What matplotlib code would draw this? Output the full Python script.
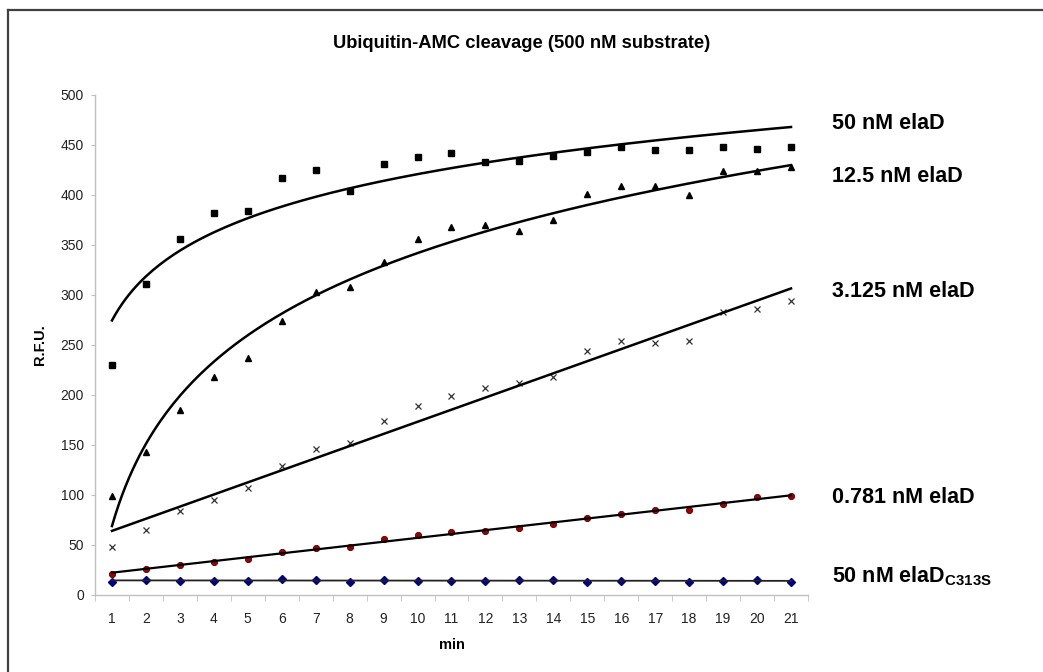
import numpy as np
import matplotlib
matplotlib.use('Agg')
import matplotlib.pyplot as plt
from matplotlib.lines import Line2D
from matplotlib.ticker import MultipleLocator

plt.rcParams['font.family'] = ['Liberation Sans', 'DejaVu Sans']
plt.rcParams['mathtext.fontset'] = 'custom'
plt.rcParams['mathtext.rm'] = 'Liberation Sans'
plt.rcParams['mathtext.bf'] = 'Liberation Sans:bold'

minutes = np.arange(1, 22)

# R.F.U.
elad_50 = [230, 311, 356, 382, 384, 417, 425, 404, 431, 438, 442,
           433, 434, 439, 443, 448, 445, 445, 448, 446, 448]
elad_12_5 = [99, 143, 185, 218, 237, 274, 303, 308, 333, 356, 368,
             370, 364, 375, 401, 409, 409, 400, 424, 424, 428]
elad_3_125 = [48, 65, 84, 95, 107, 129, 146, 152, 174, 189, 199,
              207, 212, 218, 244, 254, 252, 254, 283, 286, 294]
elad_0_781 = [21, 26, 30, 33, 36, 43, 47, 48, 56, 60, 63,
              64, 67, 71, 77, 81, 85, 85, 91, 98, 99]
elad_c313s = [13.5, 15, 14.3, 14.3, 14.3, 16, 15.3, 13, 15.3, 14.3, 14.3,
              14.3, 15.3, 15.3, 12.7, 14.3, 14.3, 13.3, 14.3, 15.3, 13.3]

labels = ['50 nM elaD', '12.5 nM elaD', '3.125 nM elaD', '0.781 nM elaD',
          r'50 nM elaD$_{\mathbf{C313S}}$']
label_y = [466, 413, 298, 92, 13]   # baselines, in R.F.U.


def log_fit(x, y, xs):
    b, a = np.polyfit(np.log(x), y, 1)
    return a + b * np.log(xs)


def lin_fit(x, y):
    m, c = np.polyfit(x, y, 1)
    return m * x + c


fig = plt.figure(figsize=(10.43, 6.72), dpi=100)
ax = fig.add_axes([95 / 1043, 1 - 595 / 672, 713 / 1043, 500 / 672])

xs = np.linspace(1, 21, 200)

ax.plot(minutes, elad_50, linestyle='none', marker='s', markersize=4.3, color='black')
ax.plot(xs, log_fit(minutes, elad_50, xs), color='black', lw=1.8)

ax.plot(minutes, elad_12_5, linestyle='none', marker='^', markersize=5, color='black')
ax.plot(xs, log_fit(minutes, elad_12_5, xs), color='black', lw=1.8)

ax.plot(minutes, elad_3_125, linestyle='none', marker='x', markersize=5, color='#333333', mew=0.9)
ax.plot(minutes, lin_fit(minutes, elad_3_125), color='black', lw=1.8)

ax.plot(minutes, elad_0_781, linestyle='none', marker='o', markersize=4.5,
        color='#990000', markeredgecolor='#5a0000', markeredgewidth=0.6)
ax.plot(minutes, lin_fit(minutes, elad_0_781), color='black', lw=1.6)

ax.plot(minutes, elad_c313s, linestyle='none', marker='D', markersize=3.8, color='#000080')
ax.plot(minutes, lin_fit(minutes, elad_c313s), color='#222222', lw=1.3)

ax.set_xlim(0.5, 21.5)
ax.set_ylim(0, 500)
ax.set_xticks(minutes)
ax.set_xticklabels([str(m) for m in minutes])
ax.xaxis.set_minor_locator(MultipleLocator(1, offset=0.5))
ax.yaxis.set_major_locator(MultipleLocator(50))

for s in ['top', 'right']:
    ax.spines[s].set_visible(False)
for s in ['left', 'bottom']:
    ax.spines[s].set_color('#c0c0c0')
    ax.spines[s].set_linewidth(1.0)

ax.tick_params(axis='x', which='major', length=0, pad=12, labelsize=10, labelcolor='#222222')
ax.tick_params(axis='x', which='minor', length=4, color='#c0c0c0', direction='out')
ax.tick_params(axis='y', which='major', length=3, color='#c0c0c0', pad=5,
               labelsize=10, labelcolor='#222222')

ax.set_xlabel('min', fontsize=10.5, fontweight='bold', labelpad=9)
ax.set_ylabel('R.F.U.', fontsize=10.5, fontweight='bold', labelpad=10)

for lab, yv in zip(labels, label_y):
    ax.text(22.2, yv, lab, fontsize=15.5, fontweight='bold', va='baseline', ha='left',
            clip_on=False)

fig.text(0.5, 1 - 48 / 672, 'Ubiquitin-AMC cleavage (500 nM substrate)',
         ha='center', va='baseline', fontsize=13.2, fontweight='bold')

fig.add_artist(Line2D([8 / 1043, 1.0], [1 - 10 / 672, 1 - 10 / 672], color='#404040', lw=1.6,
                      transform=fig.transFigure))
fig.add_artist(Line2D([8 / 1043, 8 / 1043], [0.0, 1 - 10 / 672], color='#404040', lw=1.6,
                      transform=fig.transFigure))

fig.savefig('out.png', dpi=100)
